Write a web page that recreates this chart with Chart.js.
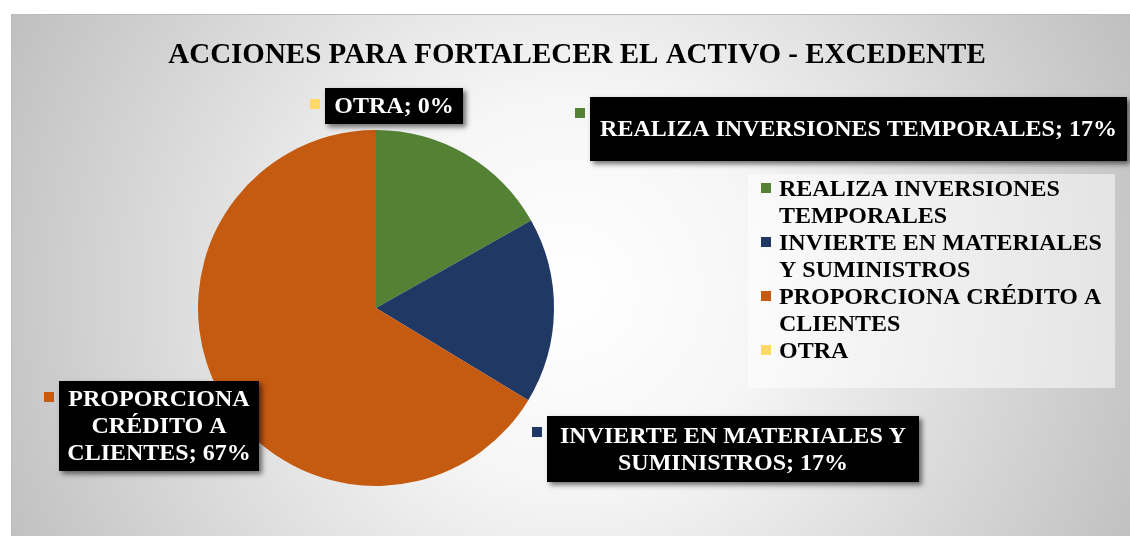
<!DOCTYPE html>
<html>
<head>
<meta charset="utf-8">
<script src="https://cdn.jsdelivr.net/npm/chart.js@4"></script>
<style>
  body { margin: 0; background: #fff; }
  canvas { display: block; }
</style>
</head>
<body>
<canvas id="c" width="1130" height="536"></canvas>
<script>
var categories = ["REALIZA INVERSIONES TEMPORALES", "INVIERTE EN MATERIALES Y SUMINISTROS", "PROPORCIONA CRÉDITO A CLIENTES", "OTRA"];
var percents = [17, 17, 67, 0];
var colors = ["#548235", "#203864", "#C55A11", "#FFD966"];
var titleText = "ACCIONES PARA FORTALECER EL ACTIVO - EXCEDENTE";

// label boxes (x, y, w, h) for each slice label
var labelBoxes = [
    [590, 97, 537, 64],
    [547, 416, 372, 66],
    [59, 381, 200, 90],
    [325, 88, 138, 36]
];
var serif = '"Liberation Serif", "Times New Roman", serif';

function wrap(ctx, text, maxW) {
    var words = text.split(" "), lines = [], cur = "";
    words.forEach(function (w) {
        var t = cur ? cur + " " + w : w;
        if (cur && ctx.measureText(t).width > maxW) { lines.push(cur); cur = w; }
        else cur = t;
    });
    if (cur) lines.push(cur);
    return lines;
}

var decor = {
    id: "decor",
    beforeDraw: function (chart) {
        var ctx = chart.ctx;
        ctx.save();
        var g = ctx.createRadialGradient(570, 290, 0, 570, 290, 640);
        g.addColorStop(0, "#ffffff");
        g.addColorStop(0.3, "#f6f6f6");
        g.addColorStop(1, "#bdbdbd");
        ctx.fillStyle = g;
        ctx.fillRect(11, 14, 1119, 522);
        ctx.strokeStyle = "#bcbcbc";
        ctx.lineWidth = 1;
        ctx.strokeRect(11.5, 14.5, 1130, 530);
        // legend box
        ctx.fillStyle = "rgba(255,255,255,0.5)";
        ctx.fillRect(748, 174, 367, 214);
        // title
        ctx.fillStyle = "#000";
        ctx.font = "bold 29px " + serif;
        ctx.textAlign = "center";
        ctx.textBaseline = "alphabetic";
        ctx.fillText(titleText, 577, 63);
        // legend
        ctx.font = "bold 24px " + serif;
        ctx.textAlign = "left";
        var y = 196;
        categories.forEach(function (c, i) {
            ctx.fillStyle = colors[i];
            ctx.fillRect(761, y - 13, 10, 10);
            ctx.fillStyle = "#000";
            wrap(ctx, c, 335).forEach(function (ln) {
                ctx.fillText(ln, 779, y);
                y += 27;
            });
        });
        ctx.restore();
    },
    afterDraw: function (chart) {
        var ctx = chart.ctx;
        ctx.save();
        ctx.font = "bold 24px " + serif;
        categories.forEach(function (c, i) {
            var b = labelBoxes[i];
            ctx.fillStyle = colors[i];
            ctx.fillRect(b[0] - 15, b[1] + 11, 10, 10);
            ctx.save();
            ctx.shadowColor = "rgba(0,0,0,0.55)";
            ctx.shadowBlur = 5;
            ctx.shadowOffsetX = 3;
            ctx.shadowOffsetY = 3;
            ctx.fillStyle = "#000";
            ctx.fillRect(b[0], b[1], b[2], b[3]);
            ctx.restore();
            var lines = wrap(ctx, c + "; " + percents[i] + "%", b[2] - 10);
            ctx.fillStyle = "#fff";
            ctx.textAlign = "center";
            ctx.textBaseline = "middle";
            var lh = 27, cy = b[1] + b[3] / 2 - (lines.length - 1) * lh / 2 + 1;
            lines.forEach(function (ln, k) {
                ctx.fillText(ln, b[0] + b[2] / 2, cy + k * lh);
            });
        });
        ctx.restore();
    }
};

new Chart(document.getElementById("c").getContext("2d"), {
    type: "pie",
    data: {
        labels: categories,
        datasets: [{
            data: percents,
            backgroundColor: colors,
            borderWidth: 0
        }]
    },
    options: {
        responsive: false,
        devicePixelRatio: 1,
        animation: false,
        layout: { padding: { left: 198, right: 576, top: 130, bottom: 50 } },
        plugins: {
            legend: { display: false },
            title: { display: false },
            tooltip: { enabled: false }
        }
    },
    plugins: [decor]
});
</script>
</body>
</html>
